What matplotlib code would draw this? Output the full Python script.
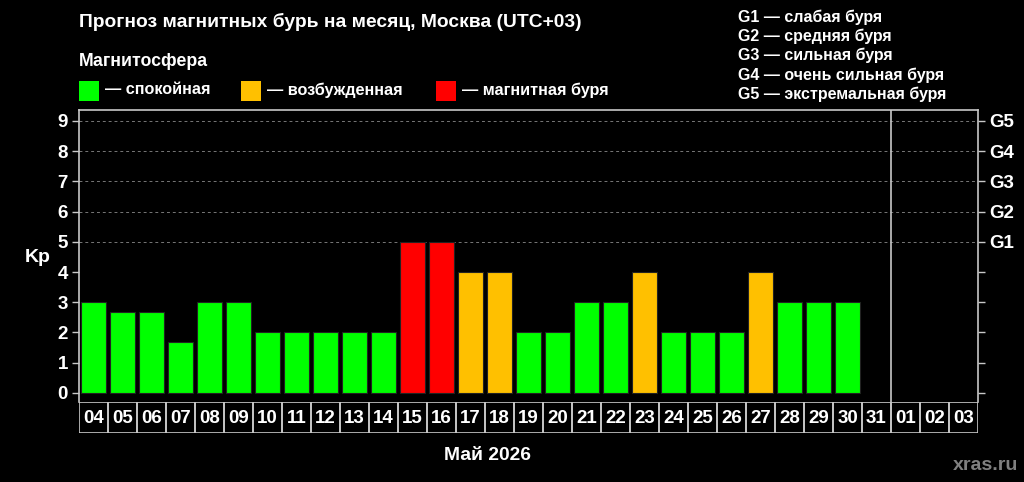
import matplotlib.pyplot as plt
from matplotlib.patches import Rectangle

plt.rcParams['font.family'] = ['Liberation Sans', 'DejaVu Sans']
plt.rcParams['font.weight'] = 'bold'

days = ['04', '05', '06', '07', '08', '09', '10', '11', '12', '13', '14', '15', '16', '17',
        '18', '19', '20', '21', '22', '23', '24', '25', '26', '27', '28', '29', '30', '31',
        '01', '02', '03']
kp = [3, 2.67, 2.67, 1.67, 3, 3, 2, 2, 2, 2, 2, 5, 5, 4,
      4, 2, 2, 3, 3, 4, 2, 2, 2, 4, 3, 3, 3]
g_levels = ['G1', 'G2', 'G3', 'G4', 'G5']
g_names = ['слабая буря', 'средняя буря', 'сильная буря', 'очень сильная буря', 'экстремальная буря']
legend_labels = ['— спокойная', '— возбужденная', '— магнитная буря']

GREEN, ORANGE, RED = '#00ff00', '#ffc000', '#ff0000'
LINE = '#c8c8c8'


def bar_color(v):
    if v >= 5:
        return RED
    if v >= 4:
        return ORANGE
    return GREEN


fig = plt.figure(figsize=(10.24, 4.82), dpi=100, facecolor='black')
ax = fig.add_axes([79 / 1024, 1 - 402 / 482, 899 / 1024, 292 / 482], facecolor='black')

x = list(range(len(kp)))
ax.bar(x, kp, width=0.88, color=[bar_color(v) for v in kp], edgecolor='#222222', linewidth=0.8, zorder=3)

ax.set_xlim(-0.5, len(days) - 0.5)
ax.set_ylim(-0.3, 9.36)
ax.set_xticks([])
ax.set_yticks(range(10))
ax.tick_params(axis='y', colors=LINE, labelcolor='white', labelsize=13.5, length=5, width=1, pad=3)
for lab in ax.get_yticklabels():
    lab.set_fontweight('bold')

for y in range(5, 10):
    ax.axhline(y, color='#777777', linestyle=(0, (3, 3)), linewidth=0.7, zorder=1)

for s in ['left', 'top', 'right']:
    ax.spines[s].set_color(LINE)
    ax.spines[s].set_linewidth(1.2)
ax.spines['bottom'].set_visible(False)

# month boundary
ax.axvline(days.index('01') - 0.5, color=LINE, linewidth=1.2, zorder=4)

ax2 = ax.twinx()
ax2.set_ylim(ax.get_ylim())
ax2.set_yticks(range(10))
ax2.set_yticklabels([''] * 5 + g_levels)
ax2.tick_params(axis='y', colors=LINE, labelcolor='white', labelsize=13.5, length=5, width=1, pad=3)
for lab in ax2.get_yticklabels():
    lab.set_fontweight('bold')
for s in ax2.spines.values():
    s.set_visible(False)

fig.text(38 / 1024, 1 - 258 / 482, 'Kp', color='white', fontsize=14, fontweight='bold',
         ha='center', va='center')

# date row
axd = fig.add_axes([79 / 1024, 1 - 433 / 482, 899 / 1024, 31 / 482], facecolor='black')
axd.set_xlim(-0.5, len(days) - 0.5)
axd.set_ylim(0, 1)
axd.axis('off')
for i, d in enumerate(days):
    axd.add_patch(Rectangle((i - 0.5, 0), 1, 1, fill=False, edgecolor=LINE, linewidth=1.2))
    axd.text(i, 0.48, d, color='white', fontsize=13.5, fontweight='bold', ha='center', va='center')

fig.text(79 / 1024, 1 - 22 / 482, 'Прогноз магнитных бурь на месяц, Москва (UTC+03)',
         color='white', fontsize=13.9, fontweight='bold', va='center')
fig.text(79 / 1024, 1 - 61 / 482, 'Магнитосфера', color='white', fontsize=12.8, fontweight='bold', va='center')

leg_colors = [GREEN, ORANGE, RED]
leg_x = [79, 241, 436]
for lx, c, t in zip(leg_x, leg_colors, legend_labels):
    fig.patches.append(Rectangle((lx / 1024, 1 - 101 / 482), 20 / 1024, 20 / 482,
                                 transform=fig.transFigure, facecolor=c, edgecolor='none'))
    fig.text((lx + 26) / 1024, 1 - 90 / 482, t, color='white', fontsize=11.7, fontweight='bold', va='center')

for i, (g, n) in enumerate(zip(g_levels, g_names)):
    fig.text(738 / 1024, 1 - (17 + 19.3 * i) / 482, g + ' — ' + n, color='white',
             fontsize=11.5, fontweight='bold', va='center')

fig.text(487 / 1024, 1 - 455 / 482, 'Май 2026', color='white', fontsize=13.9, fontweight='bold',
         ha='center', va='center')
fig.text(1018 / 1024, 1 - 466 / 482, 'xras.ru', color='#808080', fontsize=14, fontweight='bold',
         ha='right', va='center')

fig.savefig('out.png', dpi=100, facecolor='black')
